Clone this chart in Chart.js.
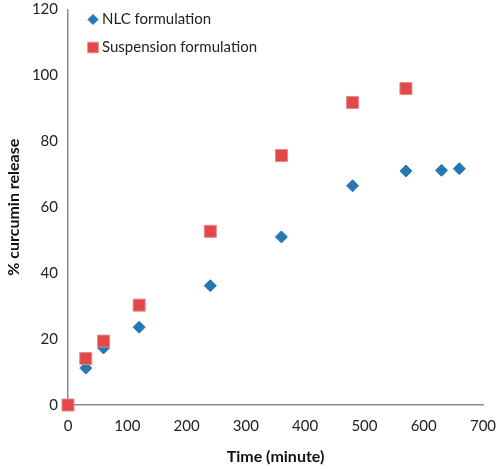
<!DOCTYPE html>
<html>
<head>
<meta charset="utf-8">
<script src="https://cdn.jsdelivr.net/npm/chart.js@4"></script>
<style>
  html, body { margin: 0; padding: 0; background: #fff; }
  #wrap { width: 500px; height: 469px; position: relative; }
</style>
</head>
<body>
<div id="wrap"><canvas id="releaseChart"></canvas></div>
<script>
// release data (time in minutes, % released)
const nlcTimes = [0, 30, 60, 120, 240, 360, 480, 570, 630, 660];
const nlcRelease = [0, 11.2, 17.3, 23.6, 36.2, 51.0, 66.5, 71.0, 71.2, 71.7];
const suspTimes = [0, 30, 60, 120, 240, 360, 480, 570];
const suspRelease = [0, 14.1, 19.4, 30.3, 52.7, 75.7, 91.8, 96.0];
const seriesNames = ['NLC formulation', 'Suspension formulation'];
const xTicks = [0, 100, 200, 300, 400, 500, 600, 700];
const yTicks = [0, 20, 40, 60, 80, 100, 120];

const font = 'Lato, "DejaVu Sans", sans-serif';

const toPoints = (xs, ys) => xs.map((x, i) => ({x: x, y: ys[i]}));

// legend drawn inside the plot area, top left, like the original
const insideLegend = {
    id: 'insideLegend',
    afterDraw(chart) {
        const ctx = chart.ctx;
        const area = chart.chartArea;
        ctx.save();
        ctx.font = '15px ' + font;
        ctx.textBaseline = 'middle';
        chart.data.datasets.forEach((ds, i) => {
            const y = area.top + 10 + i * 28;
            const x = area.left + 25;
            ctx.fillStyle = ds.backgroundColor;
            ctx.strokeStyle = ds.borderColor;
            ctx.lineWidth = ds.borderWidth;
            Chart.helpers.drawPoint(ctx, {pointStyle: ds.pointStyle, radius: ds.legendRadius, borderWidth: ds.borderWidth}, x, y);
            ctx.fillStyle = '#222';
            ctx.fillText(ds.label, x + 9, y);
        });
        ctx.restore();
    }
};

new Chart(document.getElementById('releaseChart'), {
    type: 'scatter',
    data: {
        datasets: [{
            label: seriesNames[0],
            data: toPoints(nlcTimes, nlcRelease),
            pointStyle: 'rectRot',
            pointRadius: 6,
            legendRadius: 5,
            backgroundColor: '#2677B4',
            borderColor: '#2677B4',
            borderWidth: 1,
            clip: false,
            order: 2
        }, {
            label: seriesNames[1],
            data: toPoints(suspTimes, suspRelease),
            pointStyle: 'rect',
            pointRadius: 8.5,
            legendRadius: 7.5,
            backgroundColor: '#E2474A',
            borderColor: '#E98A8A',
            borderWidth: 1,
            clip: false,
            order: 1
        }]
    },
    options: {
        responsive: true,
        maintainAspectRatio: false,
        animation: false,
        layout: {padding: {top: 7, right: 17, left: 0, bottom: 0}},
        plugins: {
            legend: {display: false},
            tooltip: {enabled: false}
        },
        scales: {
            x: {
                type: 'linear',
                min: 0,
                max: 700,
                afterBuildTicks: axis => { axis.ticks = xTicks.map(v => ({value: v})); },
                afterFit: axis => { axis.height = 64; axis.paddingLeft = 0; axis.paddingRight = 0; },
                grid: {display: false, drawTicks: false},
                border: {color: '#8c8c8c', width: 1.5},
                ticks: {color: '#222', font: {family: font, size: 15}, padding: 12},
                title: {
                    display: true,
                    text: 'Time (minute)',
                    color: '#111',
                    font: {family: font, size: 16, weight: 'bold'},
                    padding: {top: 0, bottom: 3}
                }
            },
            y: {
                type: 'linear',
                min: 0,
                max: 120,
                afterBuildTicks: axis => { axis.ticks = yTicks.map(v => ({value: v})); },
                afterFit: axis => { axis.width = 68; axis.paddingTop = 0; axis.paddingBottom = 0; },
                grid: {display: false, drawTicks: false},
                border: {color: '#8c8c8c', width: 1.5},
                ticks: {color: '#222', font: {family: font, size: 15}, padding: 10},
                title: {
                    display: true,
                    text: '% curcumin release',
                    color: '#111',
                    font: {family: font, size: 16, weight: 'bold'},
                    padding: {top: 4, bottom: 0}
                }
            }
        }
    },
    plugins: [insideLegend]
});
</script>
</body>
</html>
